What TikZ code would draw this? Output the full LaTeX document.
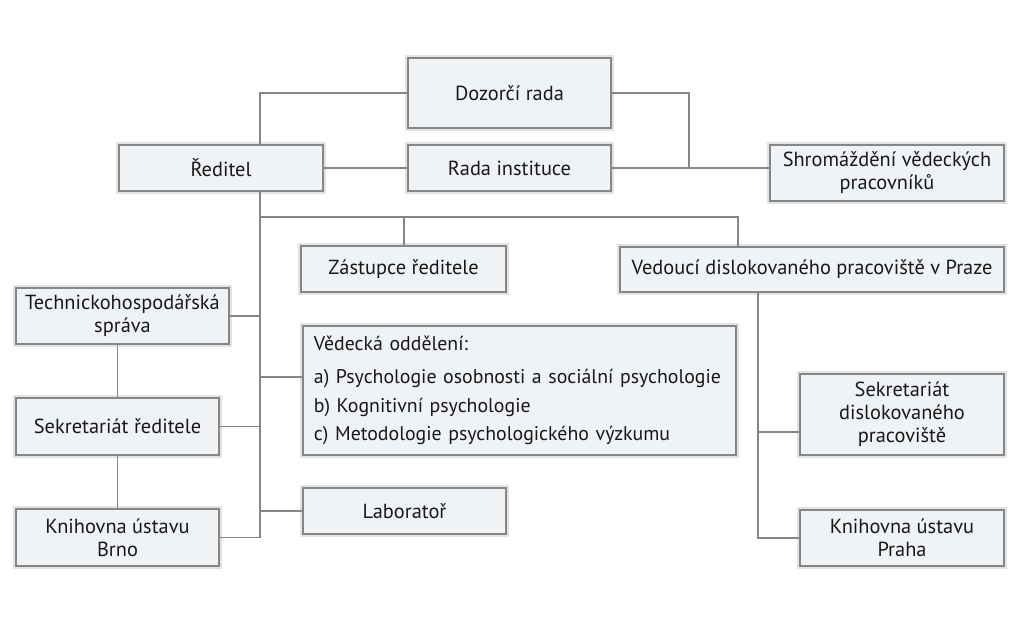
\documentclass[tikz,border=0pt]{standalone}
\usepackage{fontspec}
\setmainfont{PT Sans}
\usetikzlibrary{positioning}
\definecolor{boxfill}{HTML}{EFF3F6}
\definecolor{boxline}{HTML}{868686}
\definecolor{halo}{HTML}{E3E3E3}
\definecolor{ink}{HTML}{1A1718}

\begin{document}
\begin{tikzpicture}[x=0.025cm, y=-0.025cm,
	unit/.style={draw=boxline, fill=boxfill, line width=1.4pt, anchor=north west, align=center, text=ink,
		inner sep=2pt, font=\fontsize{14.5}{16.4}\selectfont, preaction={draw=halo, line width=3.6pt}},
	link/.style={draw=boxline, line width=1.4pt}]
	\useasboundingbox (0,0) rectangle (1018,639);
	\node[unit, minimum width=5.075cm, minimum height=1.75cm] (dozor) at (407,57) {Dozorčí rada};
	\node[unit, minimum width=5.1cm, minimum height=1.15cm] (reditel) at (118,144) {Ředitel};
	\node[unit, minimum width=5.075cm, minimum height=1.15cm] (rada) at (407,144) {Rada instituce};
	\node[unit, minimum width=5.85cm, minimum height=1.4cm] (shrom) at (769,144) {Shromáždění vědeckých\\pracovníků};
	\node[unit, minimum width=5.125cm, minimum height=1.15cm] (zast) at (300,245) {Zástupce ředitele};
	\node[unit, minimum width=9.6cm, minimum height=1.125cm] (vedouci) at (619,246) {Vedoucí dislokovaného pracoviště v Praze};
	\node[unit, minimum width=5.325cm, minimum height=1.4cm] (tech) at (15,287) {Technickohospodářská\\správa};
	\node[unit, minimum width=5.075cm, minimum height=1.425cm] (sekred) at (15,397) {Sekretariát ředitele};
	\node[unit, minimum width=5.075cm, minimum height=1.425cm] (knihbrno) at (15,508) {Knihovna ústavu\\Brno};
	\node[unit, minimum height=3.225cm, text width=10.275cm, inner xsep=0.275cm, align=left,
		font=\fontsize{14.1}{16.4}\selectfont] (vedecka) at (302,325)
		{\mbox{Vědecká oddělení:}\\[7pt] \mbox{a) Psychologie osobnosti a sociální psychologie}\\[4pt]
		\mbox{b) Kognitivní psychologie}\\[4pt] \mbox{c) Metodologie psychologického výzkumu}};
	\node[unit, minimum width=5.075cm, minimum height=1.15cm] (lab) at (302,487) {Laboratoř};
	\node[unit, minimum width=5.1cm, minimum height=2.025cm] (sekdisl) at (799,373) {Sekretariát\\dislokovaného\\pracoviště};
	\node[unit, minimum width=5.1cm, minimum height=1.4cm] (knihpraha) at (799,509) {Knihovna ústavu\\Praha};

	\coordinate (jtop) at (260,93);
	\coordinate (jright) at (689,167);
	\coordinate (jbar) at (260,217);
	\coordinate (jved) at (738,217);
	\coordinate (jsci) at (260,377);
	\coordinate (jpraha) at (758,432);

	\draw[link] (reditel.north -| jtop) |- (dozor.west);
	\draw[link] (reditel.east) -- (rada.west);
	\draw[link] (dozor.east) -| (jright);
	\draw[link] (rada.east) -- (rada.east -| shrom.west);
	\draw[link] (reditel.south -| jtop) |- (knihbrno.east);
	\draw[link] (jbar) -- (jved) -- (jved |- vedouci.north);
	\draw[link] (zast.north) -- (zast.north |- jbar);
	\draw[link] (tech.east) -- (tech.east -| jtop);
	\draw[link] (sekred.east) -- (sekred.east -| jtop);
	\draw[link] (jsci) -- (jsci -| vedecka.west);
	\draw[link] (lab.west) -- (lab.west -| jtop);
	\draw[link] (sekred.north |- tech.south) -- (sekred.north);
	\draw[link] (sekred.south) -- (knihbrno.north);
	\draw[link] (jpraha |- vedouci.south) |- (knihpraha.west);
	\draw[link] (jpraha) -- (jpraha -| sekdisl.west);
\end{tikzpicture}
\end{document}
